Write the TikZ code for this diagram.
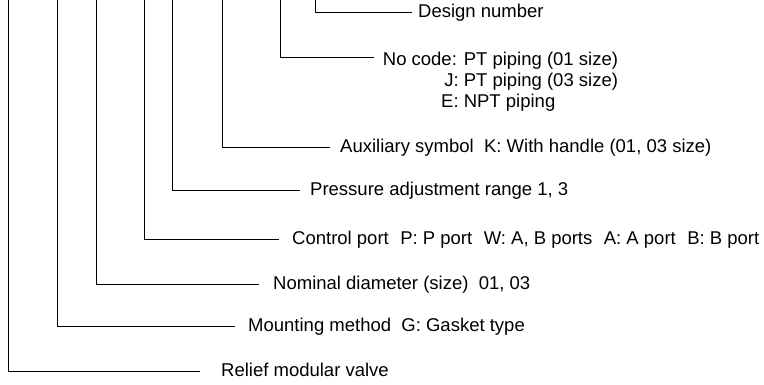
\documentclass[tikz,border=0pt]{standalone}
\usepackage{fontspec}
\setmainfont{Liberation Sans}
\begin{document}
\begin{tikzpicture}[x=1pt,y=-1pt,
  lbl/.style={anchor=base west,inner sep=0pt,font=\fontsize{18.5}{21}\selectfont},
  lead/.style={draw=black,line width=0.9pt}]
\useasboundingbox (0,0) rectangle (764,385);
% tops
\coordinate (t1) at (8,0);
\coordinate (t2) at (57,0);
\coordinate (t3) at (96,0);
\coordinate (t4) at (144,0);
\coordinate (t5) at (172,0);
\coordinate (t6) at (222,0);
\coordinate (t7) at (280,0);
\coordinate (t8) at (315,0);
% line ends
\coordinate (e1) at (200,371.7);
\coordinate (e2) at (235,326);
\coordinate (e3) at (259,284.3);
\coordinate (e4) at (279,239.7);
\coordinate (e5) at (300,190.7);
\coordinate (e6) at (330,147.7);
\coordinate (e7) at (374,57.7);
\coordinate (e8) at (411.7,12.7);
% labels
\node[lbl] (l1) at (221,376.7) {Relief modular valve};
\node[lbl] (l2) at (248,331) {Mounting method\ \ G: Gasket type};
\node[lbl] (l3) at (273,289.3) {Nominal diameter (size)\ \ 01, 03};
\node[lbl] (l4) at (292,244.7) {Control port\hspace{0.62em}P: P port\hspace{0.62em}W: A, B ports\hspace{0.62em}A: A port\hspace{0.62em}B: B port};
\node[lbl] (l5) at (310,195.7) {Pressure adjustment range 1, 3};
\node[lbl] (l6) at (340,152.7) {Auxiliary symbol\ \ K: With handle (01, 03 size)};
\node[lbl,anchor=north west] (l7) at (382.7,50.5) {\renewcommand{\arraystretch}{1.0}\setlength{\tabcolsep}{0pt}%
  \begin{tabular}{@{}r@{ }l@{}}No code: & PT piping (01 size)\\ J: & PT piping (03 size)\\ E: & NPT piping\end{tabular}};
\node[lbl] (l8) at (418,17.7) {Design number};
% leaders
\foreach \i in {1,...,8} \draw[lead] (t\i) |- (e\i);
\end{tikzpicture}
\end{document}
